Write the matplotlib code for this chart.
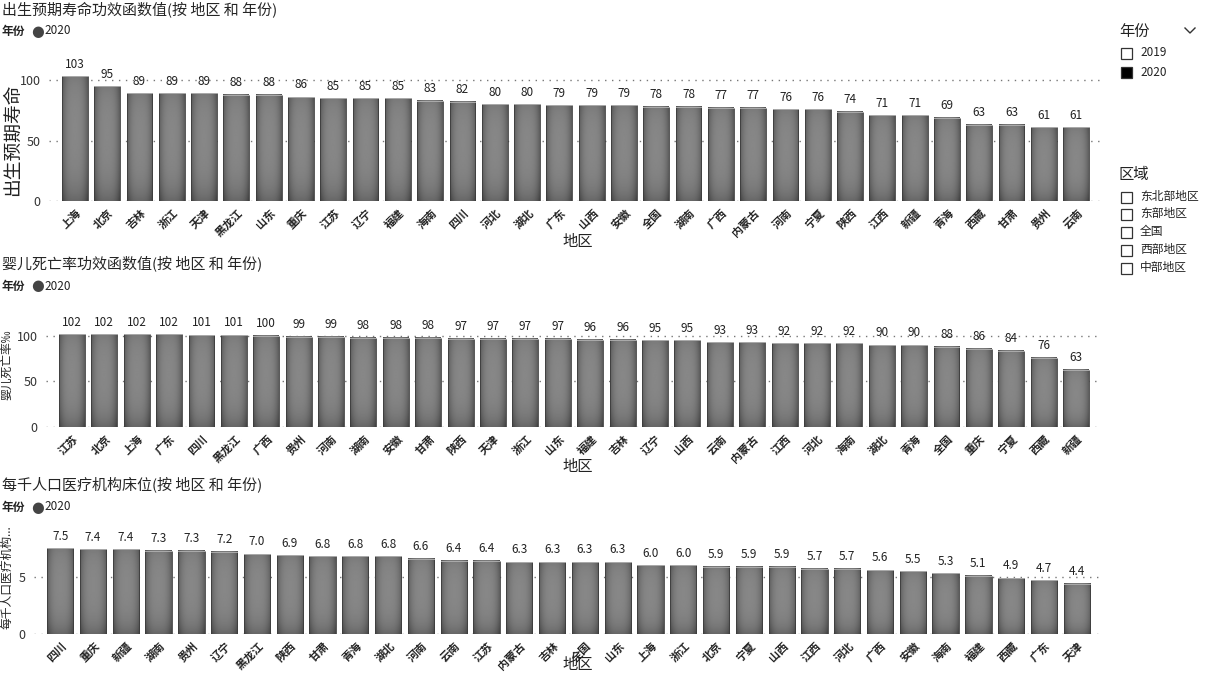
import numpy as np
import matplotlib
matplotlib.use("Agg")
import matplotlib.pyplot as plt
from matplotlib.patches import Rectangle
from matplotlib.lines import Line2D

plt.rcParams["font.family"] = ["Noto Sans CJK SC", "DejaVu Sans"]

# ---- data ----
life_regions = ["上海", "北京", "吉林", "浙江", "天津", "黑龙江", "山东", "重庆", "江苏", "辽宁",
                "福建", "海南", "四川", "河北", "湖北", "广东", "山西", "安徽", "全国", "湖南",
                "广西", "内蒙古", "河南", "宁夏", "陕西", "江西", "新疆", "青海", "西藏", "甘肃",
                "贵州", "云南"]
life_values = [103, 95, 89, 89, 89, 88, 88, 86, 85, 85, 85, 83, 82, 80, 80, 79, 79, 79, 78, 78,
               77, 77, 76, 76, 74, 71, 71, 69, 63, 63, 61, 61]

infant_regions = ["江苏", "北京", "上海", "广东", "四川", "黑龙江", "广西", "贵州", "河南", "湖南",
                  "安徽", "甘肃", "陕西", "天津", "浙江", "山东", "福建", "吉林", "辽宁", "山西",
                  "云南", "内蒙古", "江西", "河北", "海南", "湖北", "青海", "全国", "重庆", "宁夏",
                  "西藏", "新疆"]
infant_values = [102, 102, 102, 102, 101, 101, 100, 99, 99, 98, 98, 98, 97, 97, 97, 97, 96, 96,
                 95, 95, 93, 93, 92, 92, 92, 90, 90, 88, 86, 84, 76, 63]

bed_regions = ["四川", "重庆", "新疆", "湖南", "贵州", "辽宁", "黑龙江", "陕西", "甘肃", "青海",
               "湖北", "河南", "云南", "江苏", "内蒙古", "吉林", "全国", "山东", "上海", "浙江",
               "北京", "宁夏", "山西", "江西", "河北", "广西", "安徽", "海南", "福建", "西藏",
               "广东", "天津"]
bed_values = [7.5, 7.4, 7.4, 7.3, 7.3, 7.2, 7.0, 6.9, 6.8, 6.8, 6.8, 6.6, 6.4, 6.4, 6.3, 6.3,
              6.3, 6.3, 6.0, 6.0, 5.9, 5.9, 5.9, 5.7, 5.7, 5.6, 5.5, 5.3, 5.1, 4.9, 4.7, 4.4]

year_items = ["2019", "2020"]
zone_items = ["东北部地区", "东部地区", "全国", "西部地区", "中部地区"]

W, H = 1205, 675
fig = plt.figure(figsize=(W / 100, H / 100), dpi=100)
fig.patch.set_facecolor("white")


def px_axes(left, top, right, bottom):
    return fig.add_axes([left / W, 1 - bottom / H, (right - left) / W, (bottom - top) / H])


def fx(x):
    return x / W


def fy(y):
    return 1 - y / H


# bar shading: dark edges, lighter middle
gx = np.linspace(-1, 1, 60)
gy = np.linspace(0, 1, 60)
GX, GY = np.meshgrid(gx, gy)
grad = 0.53 - 0.16 * np.abs(GX) ** 3 - 0.12 * (1 - GY) ** 6 - 0.05 * GY ** 8


def draw_chart(box, regions, values, ylim, yticks, fmt):
    left, top, right, bottom = box
    ax = px_axes(left, top, right, bottom)
    n = len(values)
    w = 0.8
    for i, v in enumerate(values):
        ax.imshow(grad, extent=(i - w / 2, i + w / 2, 0, v), origin="lower", cmap="gray",
                  vmin=0, vmax=1, aspect="auto", interpolation="bilinear", zorder=2)
        ax.add_patch(Rectangle((i - w / 2, 0), w, v, fill=False, ec="#3c3c3c", lw=0.6, zorder=3))
        ax.plot([i - w / 2, i + w / 2], [v, v], color="#bdbdbd", lw=0.6, zorder=4)
        ax.annotate(fmt.format(v), (i, v), xytext=(0, 4), textcoords="offset points",
                    ha="center", va="bottom", fontsize=8.5, color="#222222")
    ax.set_xlim(-0.8, n - 1 + 0.8)
    ax.set_ylim(*ylim)
    ax.set_yticks(yticks)
    ax.set_yticklabels([str(t) for t in yticks], fontsize=9, color="#333333")
    ax.set_xticks(range(n))
    ax.set_xticklabels(regions, rotation=45, ha="right", rotation_mode="anchor",
                       fontsize=8, color="#222222", fontweight="bold")
    ax.tick_params(length=0, axis="both")
    ax.tick_params(axis="x", pad=4)
    ax.tick_params(axis="y", pad=6)
    for s in ax.spines.values():
        s.set_visible(False)
    ax.grid(axis="y", color="#777777", linestyle=(0, (1, 4)), lw=1.0, zorder=1)
    ax.set_axisbelow(True)
    ax.patch.set_alpha(0)
    return ax


def header(y_title, y_leg, title):
    fig.text(fx(2), fy(y_title), title, fontsize=10.8, va="center", ha="left", color="#252525")
    fig.text(fx(2), fy(y_leg), "年份", fontsize=8.5, fontweight="bold", va="center", ha="left",
             color="#222222")
    fig.text(fx(31), fy(y_leg), "●", fontsize=10.5, va="center", ha="left", color="#444444",
             family=["DejaVu Sans"])
    fig.text(fx(44), fy(y_leg), "2020", fontsize=8.5, va="center", ha="left", color="#222222")


def labels(ylabel, size, x, y, y_xlabel):
    fig.text(fx(x), fy(y), ylabel, rotation=90, fontsize=size, ha="center", va="center",
             color="#222222")
    fig.text(fx(578), fy(y_xlabel), "地区", fontsize=11, ha="center", va="center",
             color="#222222")


ax1 = draw_chart((49, 68, 1102, 201), life_regions, life_values, (0, 110), [0, 50, 100], "{:.0f}")
header(9, 31, "出生预期寿命功效函数值(按 地区 和 年份)")
labels("出生预期寿命", 13.5, 12, 140, 242)

ax2 = draw_chart((46, 325, 1102, 427), infant_regions, infant_values, (0, 112), [0, 50, 100],
                 "{:.0f}")
header(263, 286, "婴儿死亡率功效函数值(按 地区 和 年份)")
labels("婴儿死亡率‰", 8.5, 7, 365, 466)

ax3 = draw_chart((34, 538, 1103, 634), bed_regions, bed_values, (0, 8.4), [0, 5], "{:.1f}")
header(484, 507, "每千人口医疗机构床位(按 地区 和 年份)")
labels("每千人口医疗机构...", 8.5, 7, 577, 665)

# ---- slicers on the right ----
fig.text(fx(1119), fy(31), "年份", fontsize=11, va="center", ha="left", color="#222222")
fig.add_artist(Line2D([fx(1185), fx(1190), fx(1195)], [fy(28), fy(33), fy(28)],
                      color="#333333", lw=1.0, transform=fig.transFigure))


def checkbox(y, label, filled):
    fig.add_artist(Rectangle((fx(1121), fy(y + 6)), 11 / W, 11 / H,
                             transform=fig.transFigure, fc="black" if filled else "white",
                             ec="#333333", lw=0.9))
    fig.text(fx(1140), fy(y), label, fontsize=8.5, va="center", ha="left", color="#222222")


for yy, lab in zip([53, 72], year_items):
    checkbox(yy, lab, lab == "2020")

fig.text(fx(1119), fy(174), "区域", fontsize=11, va="center", ha="left", color="#222222")
for yy, lab in zip([197, 214, 232, 250, 268], zone_items):
    checkbox(yy, lab, False)

fig.savefig("out.png", dpi=100)
